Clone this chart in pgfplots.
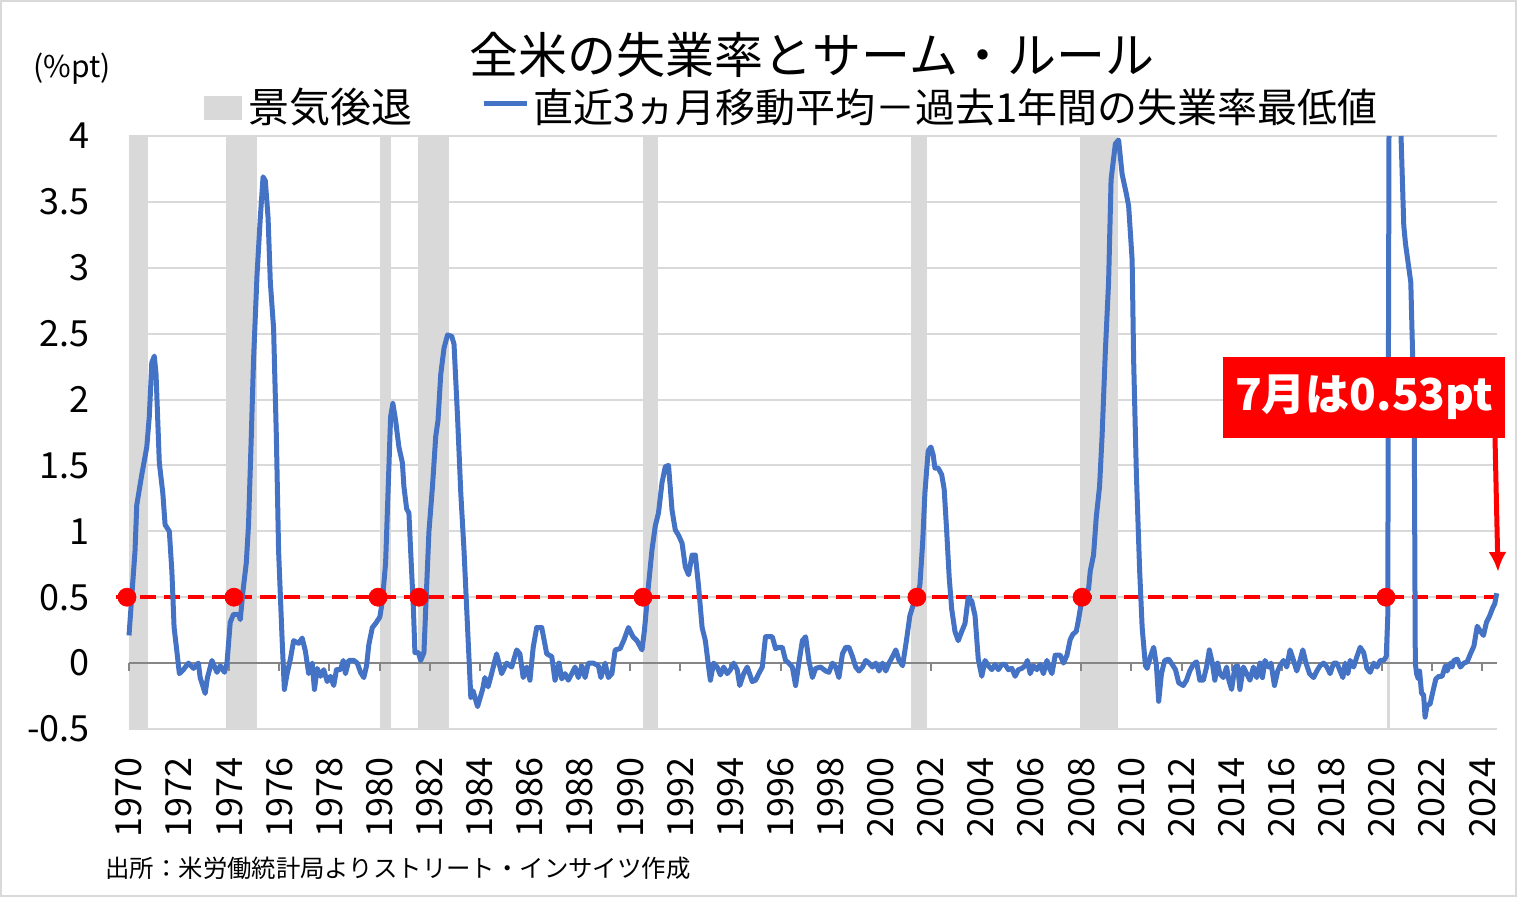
\documentclass[border=0pt]{standalone}
\usepackage{pgfplots}
\pgfplotsset{compat=1.18}
\usetikzlibrary{arrows.meta}
\usepackage{fontspec}
\setmainfont{Noto Sans CJK JP}
\definecolor{sblue}{HTML}{4472C4}
\definecolor{recgray}{HTML}{D9D9D9}
\definecolor{gridgray}{HTML}{D9D9D9}
\definecolor{axgray}{HTML}{868686}
\begin{document}
\begin{tikzpicture}[x=0.5pt,y=0.5pt]
\useasboundingbox (0,0) rectangle (1517,897);
\draw[gridgray, line width=1pt] (1,1) rectangle (1516,896);
\begin{axis}[
  at={(64.5pt,84pt)}, anchor=south west,
  scale only axis, width=684pt, height=296.5pt,
  xmin=1970, xmax=2024.59, ymin=-0.5, ymax=4,
  clip=false,
  axis x line*=bottom, axis y line*=left,
  axis line style={draw=none},
  tick style={draw=none},
  xtick={1970,1972,...,2024},
  ytick={-0.5,0,0.5,1,1.5,2,2.5,3,3.5,4},
  yticklabels={-0.5,0,0.5,1,1.5,2,2.5,3,3.5,4},
  ymajorgrids, grid style={gridgray, line width=1pt},
  /pgf/number format/1000 sep={},
  /pgf/number format/assume math mode=true,
  ticklabel style={font=\fontsize{18pt}{18pt}\selectfont},
  xticklabel style={rotate=90, anchor=east, inner sep=0pt},
  xticklabel shift=14pt,
  yticklabel style={anchor=east, inner sep=0pt},
  yticklabel shift=19.5pt,
  unbounded coords=jump,
]
% recessions
\addplot[fill=recgray, draw=none] coordinates {(1970.00,-0.5) (1970.00,4) (1970.76,4) (1970.76,-0.5)};
\addplot[fill=recgray, draw=none] coordinates {(1973.87,-0.5) (1973.87,4) (1975.11,4) (1975.11,-0.5)};
\addplot[fill=recgray, draw=none] coordinates {(1980.02,-0.5) (1980.02,4) (1980.46,4) (1980.46,-0.5)};
\addplot[fill=recgray, draw=none] coordinates {(1981.53,-0.5) (1981.53,4) (1982.77,4) (1982.77,-0.5)};
\addplot[fill=recgray, draw=none] coordinates {(1990.51,-0.5) (1990.51,4) (1991.11,4) (1991.11,-0.5)};
\addplot[fill=recgray, draw=none] coordinates {(2001.21,-0.5) (2001.21,4) (2001.84,4) (2001.84,-0.5)};
\addplot[fill=recgray, draw=none] coordinates {(2007.95,-0.5) (2007.95,4) (2009.47,4) (2009.47,-0.5)};
\addplot[fill=recgray, draw=none] coordinates {(2020.20,-0.5) (2020.20,4) (2020.30,4) (2020.30,-0.5)};
% zero line with ticks
\draw[axgray, line width=1pt] (axis cs:1970,0) -- (axis cs:2024.59,0);
\pgfplotsinvokeforeach{1970,1972,...,2024}{\draw[axgray, line width=1pt] (axis cs:#1,0) -- ([yshift=-4pt]axis cs:#1,0);}
% threshold
\addplot[red, line width=2pt, dash pattern=on 8pt off 4pt] coordinates {(1969.5,0.5) (2024.59,0.5)};
% Sahm rule series
\addplot[sblue, line width=2.5pt, line join=round] table {
x y
1970.00 0.21
1970.24 0.85
1970.31 1.20
1970.51 1.43
1970.71 1.64
1970.81 1.87
1970.91 2.28
1971.01 2.33
1971.08 2.19
1971.21 1.52
1971.35 1.29
1971.44 1.05
1971.61 1.00
1971.71 0.70
1971.80 0.27
1971.91 0.09
1972.01 -0.08
1972.17 -0.05
1972.37 0.00
1972.57 -0.04
1972.77 0.00
1972.84 -0.11
1973.04 -0.23
1973.13 -0.11
1973.31 0.02
1973.51 -0.07
1973.64 -0.02
1973.81 -0.07
1973.91 0.00
1974.04 0.31
1974.17 0.37
1974.37 0.37
1974.44 0.33
1974.55 0.55
1974.68 0.76
1974.77 1.05
1974.88 1.72
1974.97 2.30
1975.11 2.95
1975.24 3.38
1975.35 3.69
1975.44 3.66
1975.55 3.38
1975.64 2.89
1975.77 2.54
1975.88 1.72
1975.97 0.85
1976.11 0.18
1976.20 -0.20
1976.31 -0.08
1976.44 0.03
1976.57 0.17
1976.77 0.15
1976.91 0.19
1977.04 0.09
1977.17 -0.08
1977.31 0.00
1977.40 -0.20
1977.51 -0.04
1977.64 -0.10
1977.77 -0.05
1977.91 -0.14
1978.04 -0.10
1978.17 -0.17
1978.28 -0.05
1978.44 -0.05
1978.55 0.02
1978.64 -0.08
1978.77 0.02
1978.97 0.02
1979.11 0.00
1979.24 -0.07
1979.37 -0.11
1979.48 -0.02
1979.57 0.14
1979.71 0.27
1979.84 0.30
1980.01 0.35
1980.11 0.47
1980.24 0.76
1980.35 1.37
1980.44 1.87
1980.53 1.97
1980.64 1.84
1980.77 1.64
1980.91 1.52
1980.97 1.34
1981.08 1.17
1981.17 1.14
1981.24 0.85
1981.35 0.41
1981.41 0.08
1981.55 0.08
1981.64 0.02
1981.77 0.08
1981.84 0.41
1981.97 1.00
1982.11 1.34
1982.24 1.72
1982.33 1.84
1982.44 2.19
1982.57 2.39
1982.71 2.49
1982.88 2.48
1982.97 2.42
1983.11 1.87
1983.24 1.29
1983.37 0.85
1983.51 0.27
1983.64 -0.26
1983.73 -0.21
1983.91 -0.33
1984.11 -0.20
1984.20 -0.11
1984.33 -0.18
1984.47 -0.08
1984.67 0.07
1984.87 -0.08
1985.07 0.00
1985.27 -0.03
1985.47 0.10
1985.60 0.07
1985.73 -0.11
1985.87 -0.03
1986.00 -0.13
1986.13 0.12
1986.27 0.27
1986.47 0.27
1986.67 0.07
1986.87 0.05
1987.00 -0.13
1987.16 0.00
1987.27 -0.12
1987.40 -0.08
1987.53 -0.13
1987.67 -0.08
1987.80 -0.03
1987.93 -0.11
1988.07 -0.02
1988.20 -0.11
1988.33 0.00
1988.53 0.00
1988.73 -0.02
1988.83 -0.11
1989.00 0.00
1989.13 -0.11
1989.27 -0.08
1989.40 0.10
1989.60 0.11
1989.76 0.18
1989.93 0.27
1990.11 0.20
1990.27 0.17
1990.47 0.10
1990.57 0.25
1990.71 0.55
1990.87 0.86
1991.00 1.04
1991.13 1.14
1991.27 1.37
1991.40 1.49
1991.53 1.50
1991.67 1.16
1991.80 1.01
1991.93 0.97
1992.07 0.91
1992.20 0.73
1992.33 0.67
1992.47 0.82
1992.60 0.82
1992.73 0.58
1992.87 0.27
1993.00 0.17
1993.13 -0.03
1993.20 -0.13
1993.33 0.00
1993.47 -0.03
1993.60 -0.09
1993.73 -0.03
1993.87 -0.08
1994.00 -0.05
1994.13 0.00
1994.27 -0.05
1994.37 -0.17
1994.53 -0.08
1994.67 -0.03
1994.87 -0.14
1995.00 -0.13
1995.13 -0.08
1995.27 -0.03
1995.40 0.20
1995.53 0.20
1995.67 0.20
1995.80 0.11
1995.93 0.12
1996.07 0.12
1996.20 0.02
1996.33 0.00
1996.47 -0.03
1996.60 -0.17
1996.73 0.00
1996.87 0.17
1997.00 0.20
1997.13 0.02
1997.27 -0.11
1997.40 -0.04
1997.60 -0.03
1997.80 -0.06
1997.93 -0.07
1998.07 0.00
1998.20 -0.03
1998.33 -0.11
1998.47 0.07
1998.60 0.12
1998.73 0.12
1998.87 0.05
1999.00 -0.03
1999.13 -0.06
1999.27 -0.03
1999.40 0.02
1999.53 0.00
1999.67 -0.03
1999.80 0.00
1999.93 -0.06
2000.07 0.00
2000.20 -0.06
2000.33 0.00
2000.47 0.05
2000.60 0.10
2000.73 0.02
2000.87 -0.02
2001.03 0.18
2001.16 0.36
2001.29 0.44
2001.43 0.50
2001.56 0.59
2001.67 0.91
2001.76 1.29
2001.89 1.61
2002.00 1.64
2002.09 1.58
2002.16 1.48
2002.29 1.48
2002.43 1.43
2002.53 1.32
2002.63 1.00
2002.73 0.65
2002.83 0.41
2002.96 0.24
2003.09 0.17
2003.23 0.24
2003.36 0.30
2003.49 0.50
2003.63 0.47
2003.76 0.36
2003.89 0.03
2004.03 -0.10
2004.16 0.02
2004.29 -0.02
2004.43 -0.05
2004.56 -0.01
2004.69 -0.05
2004.83 -0.01
2004.96 -0.01
2005.09 -0.05
2005.23 -0.04
2005.36 -0.10
2005.49 -0.05
2005.63 -0.04
2005.76 -0.02
2005.85 0.02
2005.96 -0.08
2006.09 -0.02
2006.23 -0.05
2006.36 -0.01
2006.49 -0.08
2006.63 0.02
2006.76 -0.05
2006.83 -0.08
2006.96 0.06
2007.16 0.06
2007.29 0.00
2007.43 0.06
2007.56 0.18
2007.67 0.22
2007.80 0.24
2007.89 0.33
2008.03 0.49
2008.16 0.54
2008.29 0.56
2008.36 0.70
2008.49 0.82
2008.60 1.11
2008.73 1.34
2008.83 1.72
2008.96 2.36
2009.09 2.89
2009.19 3.67
2009.36 3.94
2009.49 3.97
2009.63 3.71
2009.80 3.56
2009.89 3.47
2010.03 3.06
2010.09 2.30
2010.20 1.43
2010.33 0.70
2010.43 0.27
2010.56 -0.02
2010.63 -0.04
2010.76 0.05
2010.89 0.12
2011.00 -0.02
2011.09 -0.29
2011.20 -0.08
2011.33 0.02
2011.49 0.03
2011.63 -0.01
2011.76 -0.05
2011.89 -0.15
2012.07 -0.17
2012.20 -0.13
2012.33 -0.06
2012.47 -0.01
2012.60 0.01
2012.73 -0.13
2012.87 -0.13
2013.00 -0.03
2013.11 0.10
2013.23 0.00
2013.33 -0.13
2013.44 0.00
2013.53 -0.08
2013.67 -0.11
2013.80 -0.03
2013.89 -0.13
2014.00 -0.20
2014.13 -0.03
2014.24 -0.02
2014.33 -0.20
2014.47 -0.03
2014.60 -0.08
2014.73 -0.13
2014.87 -0.03
2015.00 -0.11
2015.13 0.00
2015.23 -0.11
2015.33 0.02
2015.47 -0.03
2015.57 0.00
2015.71 -0.17
2015.84 -0.06
2015.93 -0.02
2016.07 0.02
2016.20 -0.03
2016.33 0.10
2016.47 0.02
2016.60 -0.06
2016.73 0.02
2016.84 0.10
2016.97 0.00
2017.11 -0.08
2017.27 -0.11
2017.40 -0.06
2017.53 -0.02
2017.67 0.00
2017.80 -0.03
2017.93 -0.08
2018.07 0.00
2018.20 0.00
2018.33 -0.06
2018.44 -0.11
2018.53 0.00
2018.64 -0.08
2018.73 0.02
2018.87 -0.03
2019.00 0.05
2019.13 0.12
2019.27 0.08
2019.40 -0.04
2019.53 -0.07
2019.67 0.00
2019.80 -0.03
2019.93 0.02
2020.07 0.02
2020.17 0.05
2020.23 0.35
2020.28 4.00
2020.50 nan
2020.76 4.00
2020.87 3.32
2020.94 3.18
2021.15 2.89
2021.22 2.36
2021.29 1.72
2021.33 0.00
2021.38 -0.08
2021.45 -0.12
2021.50 -0.06
2021.58 -0.23
2021.66 -0.24
2021.72 -0.41
2021.80 -0.32
2021.92 -0.31
2022.05 -0.20
2022.15 -0.12
2022.27 -0.10
2022.40 -0.10
2022.53 -0.02
2022.60 -0.06
2022.73 0.00
2022.80 -0.03
2022.87 0.02
2023.00 0.03
2023.13 -0.03
2023.27 0.00
2023.40 0.01
2023.53 0.07
2023.67 0.13
2023.80 0.28
2023.93 0.24
2024.05 0.21
2024.17 0.31
2024.30 0.36
2024.42 0.42
2024.50 0.45
2024.58 0.53
};
% crossing markers
\addplot[only marks, mark=*, mark size=4.5pt, red] coordinates {
(1969.92,0.5) (1974.19,0.5) (1979.94,0.5) (1981.57,0.5) (1990.51,0.5) (2001.44,0.5) (2008.03,0.5) (2020.16,0.5)};
\end{axis}
% titles and legend
\node at (812,842) {\fontsize{24.5pt}{24.5pt}\selectfont 全米の失業率とサーム・ルール};
\node at (72,828) {\fontsize{15pt}{15pt}\selectfont (\%pt)};
\fill[recgray] (204,777) rectangle (242,801);
\node[anchor=west, inner sep=0pt] at (248,790) {\fontsize{20.5pt}{20.5pt}\selectfont 景気後退};
\draw[sblue, line width=2.5pt] (484,793) -- (527,793);
\node[anchor=west, inner sep=0pt] at (533,790) {\fontsize{20pt}{20pt}\selectfont 直近3ヵ月移動平均－過去1年間の失業率最低値};
\node[anchor=west, inner sep=0pt] at (105,29) {\fontsize{12.2pt}{12.2pt}\selectfont 出所：米労働統計局よりストリート・インサイツ作成};
% annotation
\fill[red] (1223,459) rectangle (1505,540);
\node[text=white] at (1364,499.5) {\fontsize{22pt}{22pt}\selectfont\bfseries 7月は0.53pt};
\draw[red, line width=2.5pt, -{Latex[length=10pt,width=9pt]}] (1495,459) -- (1498,325);
\end{tikzpicture}
\end{document}
